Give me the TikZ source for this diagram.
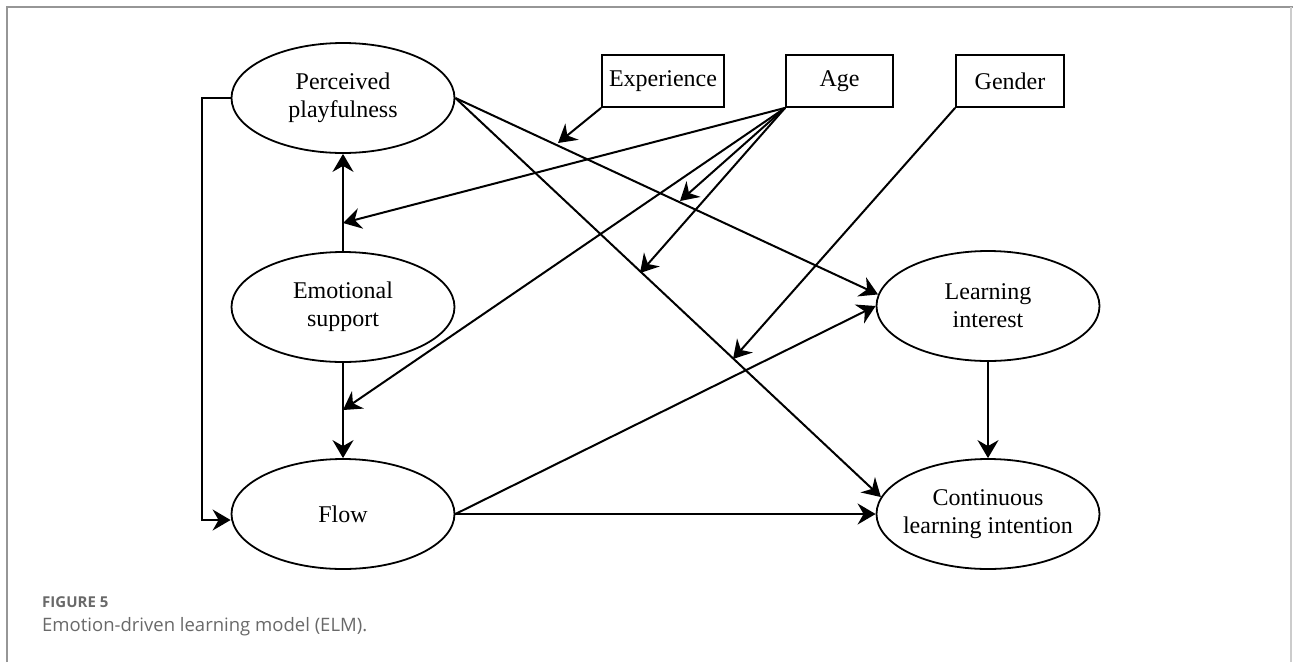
\documentclass[tikz,border=0pt]{standalone}
\usepackage{fontspec}
\setmainfont{Liberation Serif}
\newfontfamily\capfont{Open Sans}
\usetikzlibrary{arrows.meta,shapes.geometric,calc}
\definecolor{capgray}{RGB}{105,105,105}
\definecolor{framegray}{RGB}{150,150,150}
\begin{document}
\begin{tikzpicture}[x=1pt,y=-1pt,
  lbl/.style={font=\fontsize{24}{28}\selectfont},
  ell/.style={lbl,draw,line width=1.8pt,ellipse,minimum width=223pt,minimum height=110pt,inner sep=0pt,inner xsep=-12pt,align=center},
  box/.style={lbl,draw,line width=1.8pt,rectangle,minimum height=52pt,inner sep=0pt},
  ln/.style={line width=2pt},
  arr/.style={ln,-{Stealth[length=18pt,width=21pt,inset=6pt]}}]
\useasboundingbox (0,0) rectangle (1293,662);
% frame
\draw[framegray,line width=2pt] (7,662) -- (7,7) -- (1293,7);
\draw[gray!40,line width=1.5pt] (1291,7) -- (1291,662);
% nodes
\node[ell] (pp) at (343,98) {Perceived\\playfulness};
\node[ell] (es) at (343,307) {Emotional\\support};
\node[ell] (fl) at (343,514) {Flow};
\node[ell] (li) at (988,306) {Learning\\interest};
\node[ell] (cli) at (988,514) {Continuous\\learning intention};
\node[box,minimum width=122pt] (exp) at (663,81) {Experience};
\node[box,minimum width=107pt] (age) at (839.5,81) {Age};
\node[box,minimum width=108pt] (gen) at (1010,81) {Gender};
% main paths
\draw[arr] (es.north) -- (pp.south);
\draw[arr] (es.south) -- (fl.north);
\draw[arr] (li.south) -- (cli.north);
\draw[arr] (pp.west) -- ++(-29,0) |- ([yshift=-6pt]fl.west);
\draw[arr] (pp.east) -- (li.174);
\draw[arr] (pp.east) -- (cli.171);
\draw[arr] (fl.east) -- (li.west);
\draw[arr] (fl.east) -- (cli.west);
% moderator targets
\coordinate (tExp) at (558,143);
\coordinate (tA1) at (343,223);
\coordinate (tA2) at (680,201);
\coordinate (tA3) at (640,273);
\coordinate (tA4) at (343,410);
\coordinate (tG) at (733,359);
\draw[arr] (exp.south west) -- (tExp);
\draw[arr] (age.south west) -- (tA1);
\draw[arr] (age.south west) -- (tA2);
\draw[arr] (age.south west) -- (tA3);
\draw[arr] (age.south west) -- (tA4);
\draw[arr] (gen.south west) -- (tG);
% caption
\node[anchor=base west,inner sep=0pt,text=capgray,font=\capfont\bfseries\fontsize{15}{17}\selectfont] (fig) at (42,607) {FIGURE 5};
\node[anchor=base west,inner sep=0pt,text=capgray,font=\capfont\fontsize{18.5}{21}\selectfont] (cap) at (42,631) {Emotion-driven learning model (ELM).};
\end{tikzpicture}
\end{document}
